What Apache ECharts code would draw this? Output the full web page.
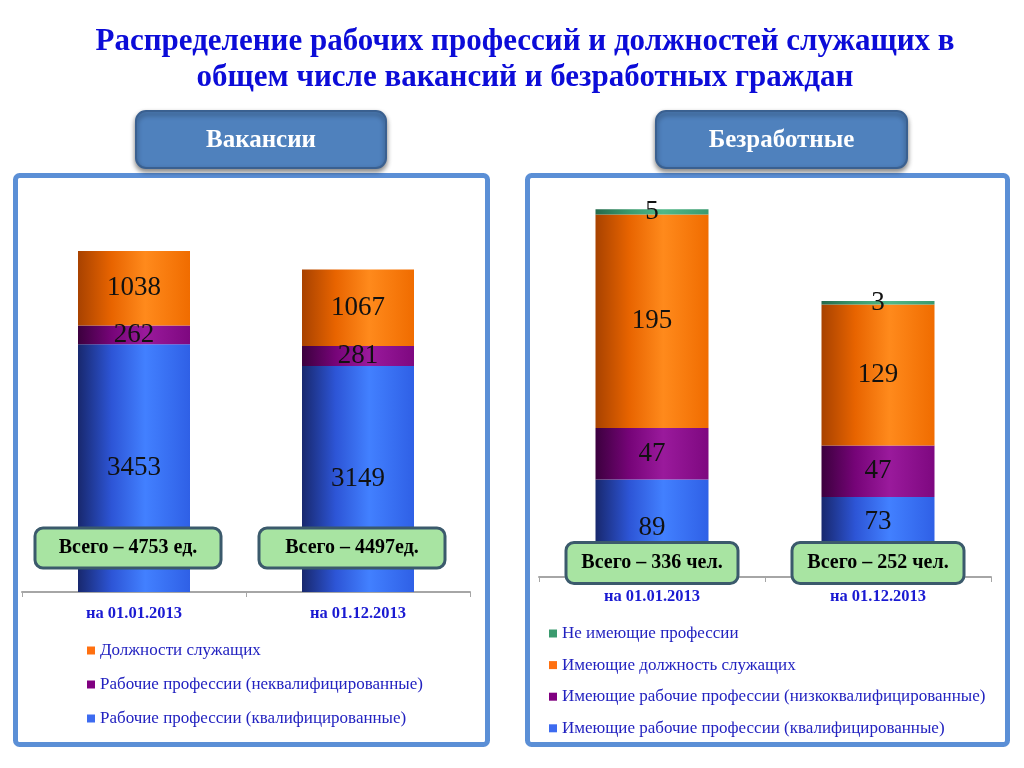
<!DOCTYPE html>
<html>
<head>
<meta charset="utf-8">
<script src="https://cdn.jsdelivr.net/npm/echarts@6/dist/echarts.min.js"></script>
<style>
html,body{margin:0;padding:0;background:#fff;}
#c{width:1024px;height:768px;}
</style>
</head>
<body>
<div id="c"></div>
<script>
// ---- Data ----
const titleLines = ['Распределение рабочих профессий и должностей служащих в', 'общем числе вакансий и безработных граждан'];
const panelTitles = ['Вакансии', 'Безработные'];
const categories = ['на 01.01.2013', 'на 01.12.2013'];

// Vacancies (left)
const vacNames = ['Должности служащих', 'Рабочие профессии (неквалифицированные)', 'Рабочие профессии (квалифицированные)'];
const vacEmployees = [1038, 1067];
const vacUnskilled = [262, 281];
const vacSkilled = [3453, 3149];
const vacUnits = [' ед.', 'ед.'];

// Unemployed (right)
const unNames = ['Не имеющие профессии', 'Имеющие должность служащих', 'Имеющие рабочие профессии (низкоквалифицированные)', 'Имеющие рабочие профессии (квалифицированные)'];
const unNone = [5, 3];
const unEmployees = [195, 129];
const unLowSkilled = [47, 47];
const unSkilled = [89, 73];
const unUnits = [' чел.', ' чел.'];

// ---- Styles ----
function grad(c0, c1, c2, c3) {
  return new echarts.graphic.LinearGradient(0, 0, 1, 0, [
    {offset: 0, color: c0}, {offset: 0.3, color: c1}, {offset: 0.6, color: c2}, {offset: 1, color: c3}
  ]);
}
const C = {
  blue:   {solid: '#3d6bf0', g: () => grad('#18286e', '#2d55d6', '#4280ff', '#2f60e6')},
  purple: {solid: '#800080', g: () => grad('#3c003e', '#760478', '#9a1a9c', '#7e0880')},
  orange: {solid: '#ff7010', g: () => grad('#a84200', '#e86400', '#ff8a1c', '#f06c00')},
  green:  {solid: '#3a9a6e', g: () => grad('#246a4c', '#3a9a6e', '#50b888', '#3a9a70')}
};
const serif = '"Liberation Serif", "DejaVu Serif", serif';

function barSeries(name, data, color, xi, stack, labelOffsets) {
  return {
    type: 'bar', name: name, stack: stack,
    data: data.map((v, i) => (labelOffsets && labelOffsets[i]) ? {value: v, label: {offset: labelOffsets[i]}} : v),
    xAxisIndex: xi, yAxisIndex: xi, barWidth: '50%',
    itemStyle: {color: color.g()},
    label: {show: true, position: 'inside', fontFamily: serif, fontSize: 27, color: '#111'}
  };
}

function xAxisCfg(gi, margin) {
  return {
    type: 'category', gridIndex: gi, data: categories,
    axisLine: {lineStyle: {color: '#a6a6a6', width: 2}},
    axisTick: {show: true, length: 5, lineStyle: {color: '#a6a6a6'}},
    axisLabel: {fontFamily: serif, fontWeight: 'bold', fontSize: 16.5, color: '#1a1ad2', margin: margin}
  };
}

const legendText = {fontFamily: serif, fontSize: 17, color: '#2222c0', lineHeight: 16};

const chart = echarts.init(document.getElementById('c'));
const option = {
  backgroundColor: '#fff',
  animation: false,
  grid: [
    {left: 22, right: 554, top: 233.3, bottom: 176},
    {left: 539, right: 33, top: 193.8, bottom: 191}
  ],
  xAxis: [xAxisCfg(0, 13), xAxisCfg(1, 11)],
  yAxis: [
    {type: 'value', gridIndex: 0, min: 0, max: 5000, show: false, splitLine: {show: false}},
    {type: 'value', gridIndex: 1, min: 0, max: 350, show: false, splitLine: {show: false}}
  ],
  legend: [
    {
      orient: 'vertical', left: 82, top: 637, itemWidth: 8, itemHeight: 8, itemGap: 17,
      icon: 'rect', textStyle: legendText, selectedMode: false,
      data: [
        {name: vacNames[0], itemStyle: {color: C.orange.solid}},
        {name: vacNames[1], itemStyle: {color: C.purple.solid}},
        {name: vacNames[2], itemStyle: {color: C.blue.solid}}
      ]
    },
    {
      orient: 'vertical', left: 544, top: 620, itemWidth: 8, itemHeight: 8, itemGap: 14.6,
      icon: 'rect', textStyle: legendText, selectedMode: false,
      data: [
        {name: unNames[0], itemStyle: {color: C.green.solid}},
        {name: unNames[1], itemStyle: {color: C.orange.solid}},
        {name: unNames[2], itemStyle: {color: C.purple.solid}},
        {name: unNames[3], itemStyle: {color: C.blue.solid}}
      ]
    }
  ],
  series: [
    barSeries(vacNames[2], vacSkilled, C.blue, 0, 'vac'),
    barSeries(vacNames[1], vacUnskilled, C.purple, 0, 'vac'),
    barSeries(vacNames[0], vacEmployees, C.orange, 0, 'vac'),
    barSeries(unNames[3], unSkilled, C.blue, 1, 'un', [null, [0, -15]]),
    barSeries(unNames[2], unLowSkilled, C.purple, 1, 'un'),
    barSeries(unNames[1], unEmployees, C.orange, 1, 'un'),
    barSeries(unNames[0], unNone, C.green, 1, 'un')
  ]
};
chart.setOption(option);

// ---- Decorations (title, frames, headers, total boxes) ----
const graphics = [];
titleLines.forEach((t, i) => {
  graphics.push({
    type: 'text', x: 525, y: 42 + i * 36, z: 10,
    style: {text: t, fontFamily: serif, fontWeight: 'bold', fontSize: 31, fill: '#0c0cd8', align: 'center', verticalAlign: 'middle'}
  });
});
[[15.5, 472], [527.5, 480]].forEach(f => {
  graphics.push({
    type: 'rect', z: 0, shape: {x: f[0], y: 175.5, width: f[1], height: 569, r: 4},
    style: {fill: 'none', stroke: '#5b8fd6', lineWidth: 5}
  });
});
[[136, 250], [656, 251]].forEach((h, i) => {
  graphics.push({
    type: 'rect', z: 20, shape: {x: h[0], y: 111, width: h[1], height: 57, r: 10},
    style: {fill: '#4f81bd', stroke: '#3a6090', lineWidth: 2, shadowBlur: 5, shadowOffsetY: 3, shadowColor: 'rgba(0,0,0,0.45)'}
  });
  graphics.push({
    type: 'text', z: 21, x: h[0] + h[1] / 2, y: 141,
    style: {text: panelTitles[i], fontFamily: serif, fontWeight: 'bold', fontSize: 25, fill: '#fff', align: 'center', verticalAlign: 'middle'}
  });
});

function totalBoxes(gi, arrays, units, w, h, dx, dy) {
  categories.forEach((cat, ci) => {
    const total = arrays.reduce((s, a) => s + a[ci], 0);
    const p = chart.convertToPixel({xAxisIndex: gi, yAxisIndex: gi}, [cat, 0]);
    const cx = p[0] + dx, cy = p[1] - dy;
    graphics.push({
      type: 'rect', z: 30, shape: {x: cx - w / 2, y: cy - h / 2, width: w, height: h, r: 8},
      style: {fill: '#a8e4a2', stroke: '#3b5a6c', lineWidth: 3}
    });
    graphics.push({
      type: 'text', z: 31, x: cx, y: cy,
      style: {text: 'Всего – ' + total + units[ci], fontFamily: serif, fontWeight: 'bold', fontSize: 20, fill: '#000', align: 'center', verticalAlign: 'middle'}
    });
  });
}
totalBoxes(0, [vacEmployees, vacUnskilled, vacSkilled], vacUnits, 186, 40, -6, 44);
totalBoxes(1, [unNone, unEmployees, unLowSkilled, unSkilled], unUnits, 172, 41, 0, 14);

chart.setOption({graphic: graphics});
</script>
</body>
</html>
